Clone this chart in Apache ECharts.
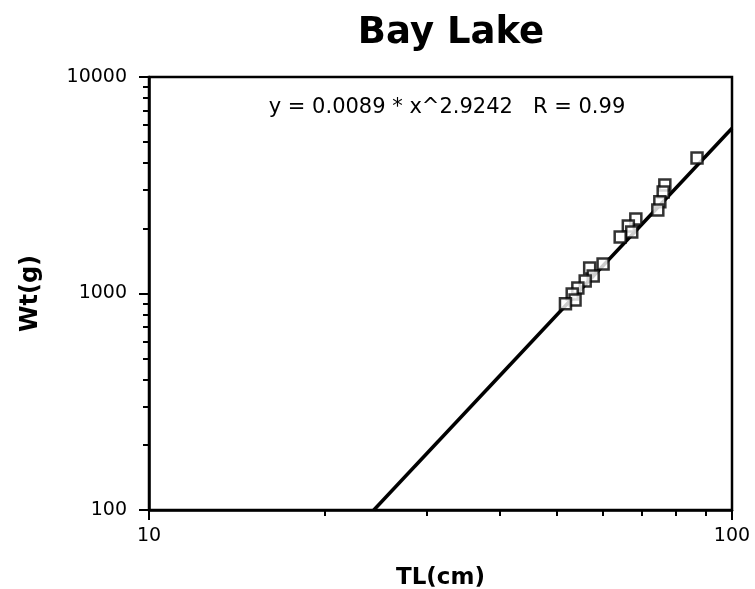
<!DOCTYPE html>
<html>
<head>
<meta charset="utf-8">
<script src="https://cdn.jsdelivr.net/npm/echarts@6/dist/echarts.min.js"></script>
<style>
  html, body { margin: 0; padding: 0; background: #fff; }
  #chart { width: 755px; height: 589px; }
</style>
</head>
<body>
<div id="chart"></div>
<script>
// 全长(cm) 与 体重(g)
const lengthCm = [87.1, 76.7, 76.2, 75.2, 74.6, 68.4, 66.4, 67.3, 64.3, 60.1, 57.0, 57.8, 56.0, 54.4, 53.2, 53.8, 51.8]
const weightG = [4227, 3170, 2944, 2650, 2432, 2208, 2051, 1924, 1824, 1368, 1313, 1205, 1143, 1060, 995, 934, 896]
// 拟合线两端（图上读取）
const fitLine = [[24.3, 100], [100, 5800]]
const xMajor = [10, 100]
const xMinor = [20, 30, 40, 50, 60, 70, 80, 90]
const yMajor = [100, 1000, 10000]
const yMinor = [200, 300, 400, 500, 600, 700, 800, 900, 2000, 3000, 4000, 5000, 6000, 7000, 8000, 9000]
const equation = 'y = 0.0089 * x^2.9242   R = 0.99'

const font = '"DejaVu Sans", "Liberation Sans", sans-serif'
const chart = echarts.init(document.getElementById('chart'))

const points = lengthCm.map((x, i) => [x, weightG[i]])
const plain = v => String(v)

const option = {
  animation: false,
  backgroundColor: '#fff',
  title: [
    {
      text: 'Bay Lake',
      left: 446,
      top: 10,
      textAlign: 'center',
      textStyle: { fontFamily: font, fontSize: 37, fontWeight: 'bold', color: '#000' }
    },
    {
      text: equation,
      left: 442,
      top: 92,
      textAlign: 'center',
      textStyle: { fontFamily: font, fontSize: 21, fontWeight: 'normal', color: '#000' }
    }
  ],
  grid: {
    left: 149, right: 23, top: 77, bottom: 79,
    outerBoundsMode: 'none',
    show: true, borderColor: '#000', borderWidth: 2.5, backgroundColor: 'transparent'
  },
  xAxis: [
    {
      type: 'log', logBase: 10, min: 10, max: 100,
      name: 'TL(cm)', nameLocation: 'middle', nameGap: 57,
      nameTextStyle: { fontFamily: font, fontSize: 23, fontWeight: 'bold', color: '#000' },
      axisLine: { lineStyle: { color: '#000', width: 2.5 } },
      axisTick: { show: true, length: 10, customValues: xMajor, lineStyle: { color: '#000', width: 2 } },
      axisLabel: { customValues: xMajor, formatter: plain, fontFamily: font, fontSize: 19, color: '#000', margin: 17 },
      splitLine: { show: false }
    },
    {
      type: 'log', logBase: 10, min: 10, max: 100, position: 'bottom',
      axisLine: { show: false },
      axisTick: { show: true, length: 6, customValues: xMinor, lineStyle: { color: '#000', width: 2 } },
      axisLabel: { show: false },
      splitLine: { show: false }
    }
  ],
  yAxis: [
    {
      type: 'log', logBase: 10, min: 100, max: 10000,
      name: 'Wt(g)', nameLocation: 'middle', nameGap: 106, nameRotate: 90,
      nameTextStyle: { fontFamily: font, fontSize: 24, fontWeight: 'bold', color: '#000' },
      axisLine: { lineStyle: { color: '#000', width: 2.5 } },
      axisTick: { show: true, length: 10, customValues: yMajor, lineStyle: { color: '#000', width: 2 } },
      axisLabel: { customValues: yMajor, formatter: plain, fontFamily: font, fontSize: 19, color: '#000', margin: 22 },
      splitLine: { show: false }
    },
    {
      type: 'log', logBase: 10, min: 100, max: 10000, position: 'left',
      axisLine: { show: false },
      axisTick: { show: true, length: 6, customValues: yMinor, lineStyle: { color: '#000', width: 2 } },
      axisLabel: { show: false },
      splitLine: { show: false }
    }
  ],
  series: [
    {
      type: 'line',
      data: fitLine,
      showSymbol: false,
      lineStyle: { color: '#000', width: 3.5 },
      z: 2
    },
    {
      type: 'scatter',
      data: points,
      symbol: 'rect',
      symbolSize: 11,
      itemStyle: { color: '#fff', borderColor: '#000', borderWidth: 2.5 },
      z: 3
    }
  ]
}

chart.setOption(option)
</script>
</body>
</html>
